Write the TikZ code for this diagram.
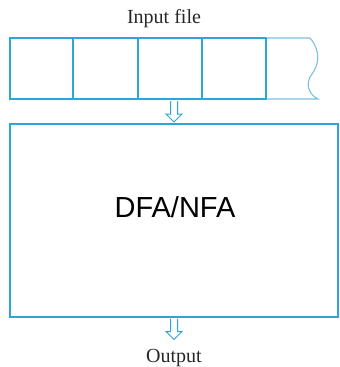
\documentclass[tikz,border=0pt]{standalone}
\usepackage{fontspec}
\newfontfamily\arialfont{Liberation Sans}
\newfontfamily\timesfont{Liberation Serif}
\usetikzlibrary{calc}
\definecolor{tapeblue}{RGB}{45,165,215}
\definecolor{lightblue}{RGB}{125,190,225}
\begin{document}
\begin{tikzpicture}[x=1pt,y=-1pt,
  cellbox/.style={draw=tapeblue, line width=1.3pt, inner sep=0pt, outer sep=0pt,
    minimum height=61pt, anchor=north west},
  bigbox/.style={draw=tapeblue, line width=1.3pt, inner sep=0pt, outer sep=0pt,
    minimum width=328pt, minimum height=193pt, anchor=north west},
  captext/.style={font=\timesfont\fontsize{20}{22}\selectfont, text=black!85, anchor=base, inner sep=0pt},
  pics/hollowdown/.style={code={
    \draw[tapeblue, line width=1pt, line join=miter]
      (-3.5,0) -- (-3.5,13) -- (-8,13) -- (0,21) -- (8,13) -- (3.5,13) -- (3.5,0);
  }}]
\useasboundingbox (0,0) rectangle (340,367);
% tape cells
\node[cellbox, minimum width=63pt] (c1) at (10,38) {};
\node[cellbox, minimum width=65pt] (c2) at (c1.north east) {};
\node[cellbox, minimum width=64pt] (c3) at (c2.north east) {};
\node[cellbox, minimum width=64pt] (c4) at (c3.north east) {};
% open last cell
\coordinate (t5) at ($(c4.north east)+(44,0)$);
\coordinate (b5) at ($(c4.south east)+(52,0)$);
\draw[lightblue, line width=1.1pt] (c4.north east) -- (t5)
  .. controls ($(t5)+(12,14)$) and ($(t5)+(8,28)$) .. ($(t5)+(2,36)$)
  .. controls ($(t5)+(-5,45)$) and ($(t5)+(-2,56)$) .. (b5) -- (c4.south east);
\draw[tapeblue, line width=1.3pt] (c4.north east) -- (c4.south east);
% automaton box
\node[bigbox] (fa) at (10,124) {};
\node[font=\arialfont\fontsize{29}{32}\selectfont, anchor=base, inner sep=0pt] (lbl) at (175,217) {DFA/NFA};
% arrows
\pic at ($(fa.north |- c1.south)+(0,2)$) {hollowdown};
\pic at ($(fa.south)+(0,1.5)$) {hollowdown};
% captions
\node[captext] (inp) at (164,23) {Input file};
\node[captext] (out) at (174,362) {Output};
\end{tikzpicture}
\end{document}
